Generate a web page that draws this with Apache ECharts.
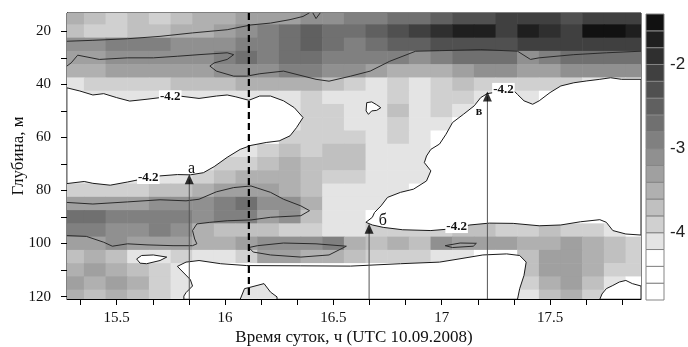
<!DOCTYPE html>
<html><head><meta charset="utf-8">
<script src="https://cdn.jsdelivr.net/npm/echarts@6/dist/echarts.min.js"></script>
<style>html,body{margin:0;padding:0;background:#fff}#c{width:688px;height:347px}</style>
</head><body><div id="c"></div>
<script>
// ---- grid of values (columns = time, rows = depth) ----
const times = [15.3,15.4,15.5,15.6,15.7,15.8,15.9,16.0,16.1,16.2,16.3,16.4,16.5,16.6,16.7,16.8,16.9,17.0,17.1,17.2,17.3,17.4,17.5,17.6,17.7,17.8,17.9];
const depths = [15,20,25,30,35,40,45,50,55,60,65,70,75,80,85,90,95,100,105,110,115,120];
const r15 = [-3.5,-3.7,-3.9,-3.7,-3.9,-3.7,-3.5,-3.5,-3.3,-3.3,-3.3,-3.1,-3.1,-2.9,-2.9,-2.7,-2.7,-2.5,-2.3,-2.3,-2.1,-2.1,-2.1,-2.3,-2.1,-2.1,-2.1];
const r20 = [-3.7,-3.9,-3.9,-3.7,-3.7,-3.5,-3.5,-3.3,-3.1,-2.9,-2.7,-2.5,-2.7,-2.7,-2.5,-2.3,-2.1,-1.9,-1.7,-1.7,-2.1,-1.7,-1.9,-2.1,-1.5,-1.5,-1.7];
const r25 = [-3.1,-3.1,-2.9,-2.9,-2.9,-3.1,-3.1,-3.1,-2.9,-2.9,-2.7,-2.5,-2.7,-2.9,-2.7,-2.5,-2.5,-2.3,-2.3,-2.3,-2.3,-2.1,-2.1,-2.1,-2.1,-2.1,-2.1];
const r30 = [-3.3,-3.3,-3.1,-3.1,-3.1,-3.1,-3.1,-2.9,-2.7,-2.9,-2.7,-2.7,-2.9,-2.9,-2.9,-2.9,-3.1,-2.9,-2.7,-2.7,-2.7,-3.1,-2.9,-2.7,-2.7,-2.7,-2.7];
const r35 = [-3.5,-3.5,-3.3,-3.3,-3.3,-3.3,-3.3,-3.1,-3.1,-3.1,-2.9,-2.9,-3.1,-3.1,-3.3,-3.5,-3.5,-3.5,-3.3,-3.1,-3.1,-3.3,-3.3,-3.1,-3.1,-3.1,-3.1];
const r40 = [-4.1,-3.9,-3.9,-3.9,-3.9,-3.7,-3.7,-3.7,-3.5,-3.5,-3.5,-3.5,-3.7,-3.9,-4.1,-3.9,-4.1,-3.9,-3.7,-3.9,-3.9,-3.9,-3.9,-3.9,-4.1,-4.1,-4.1];
const r45 = [-4.1,-4.1,-4.1,-4.1,-4.1,-4.1,-4.1,-4.1,-4.1,-4.1,-4.1,-3.9,-4.1,-4.1,-4.1,-3.9,-4.1,-3.9,-3.9,-4.1,-4.1,-4.1,-4.4,-4.4,-4.4,-4.4,-4.4];
const r50 = [-4.4,-4.4,-4.4,-4.4,-4.4,-4.4,-4.4,-4.4,-4.4,-4.4,-4.1,-3.9,-3.9,-4.1,-4.1,-3.7,-4.1,-3.9,-4.1,-4.4,-4.4,-4.4,-4.4,-4.4,-4.4,-4.4,-4.4];
const r55 = [-4.4,-4.4,-4.4,-4.4,-4.4,-4.4,-4.4,-4.4,-4.4,-4.4,-4.1,-3.9,-3.9,-4.1,-4.1,-3.9,-4.1,-4.1,-4.4,-4.4,-4.4,-4.4,-4.4,-4.4,-4.4,-4.4,-4.4];
const r60 = [-4.4,-4.4,-4.4,-4.4,-4.4,-4.4,-4.4,-4.4,-4.4,-4.4,-3.9,-3.9,-3.9,-3.9,-4.1,-3.9,-4.1,-4.3,-4.4,-4.4,-4.4,-4.4,-4.4,-4.4,-4.4,-4.4,-4.4];
const r65 = [-4.4,-4.4,-4.4,-4.4,-4.4,-4.4,-4.4,-4.1,-4.1,-3.9,-3.7,-3.9,-3.7,-3.7,-4.1,-4.1,-4.1,-4.4,-4.4,-4.4,-4.4,-4.4,-4.4,-4.4,-4.4,-4.4,-4.4];
const r70 = [-4.4,-4.4,-4.4,-4.4,-4.4,-4.4,-4.1,-3.9,-3.9,-3.7,-3.5,-3.7,-3.7,-3.7,-4.1,-4.1,-4.1,-4.4,-4.4,-4.4,-4.4,-4.4,-4.4,-4.4,-4.4,-4.4,-4.4];
const r75 = [-4.1,-4.1,-4.1,-4.1,-4.1,-4.1,-3.9,-3.7,-3.5,-3.5,-3.5,-3.7,-3.9,-3.9,-4.1,-4.1,-4.1,-4.4,-4.4,-4.4,-4.4,-4.4,-4.4,-4.4,-4.4,-4.4,-4.4];
const r80 = [-3.9,-3.9,-3.9,-3.9,-3.7,-3.7,-3.5,-3.3,-3.3,-3.3,-3.5,-3.7,-4.1,-4.1,-4.1,-4.1,-4.4,-4.4,-4.4,-4.4,-4.4,-4.4,-4.4,-4.4,-4.4,-4.4,-4.4];
const r85 = [-3.3,-3.3,-3.3,-3.3,-3.1,-3.1,-3.1,-2.9,-2.7,-3.1,-3.1,-3.5,-4.1,-4.1,-4.1,-4.4,-4.4,-4.4,-4.4,-4.4,-4.4,-4.4,-4.4,-4.4,-4.4,-4.4,-4.4];
const r90 = [-2.7,-2.7,-2.9,-2.9,-2.9,-2.9,-3.1,-2.9,-2.9,-3.3,-3.1,-3.7,-4.1,-4.1,-4.3,-4.4,-4.4,-4.4,-4.4,-4.4,-4.4,-4.4,-4.4,-4.4,-4.4,-4.4,-4.4];
const r95 = [-2.9,-2.9,-3.1,-3.1,-2.9,-3.1,-3.5,-3.7,-3.7,-3.7,-3.9,-3.9,-4.1,-4.1,-3.9,-3.9,-3.9,-3.9,-3.7,-3.7,-3.9,-3.9,-3.7,-3.9,-3.9,-4.1,-4.3];
const r100 = [-3.3,-3.3,-3.1,-3.3,-3.3,-3.3,-3.5,-3.5,-3.3,-3.1,-3.1,-3.1,-2.9,-3.5,-3.7,-3.5,-3.7,-3.1,-3.3,-3.3,-3.3,-3.5,-3.5,-3.3,-3.5,-3.7,-3.9];
const r105 = [-3.7,-3.5,-3.7,-4.1,-4.1,-3.9,-4.1,-4.1,-3.9,-3.3,-3.3,-3.5,-3.5,-3.7,-3.9,-3.9,-3.9,-4.1,-4.1,-4.3,-4.3,-3.7,-3.3,-3.3,-3.5,-3.7,-3.9];
const r110 = [-3.5,-3.3,-3.5,-3.7,-3.9,-4.1,-4.4,-4.4,-4.4,-4.4,-4.4,-4.4,-4.4,-4.4,-4.4,-4.4,-4.4,-4.4,-4.4,-4.4,-4.4,-3.7,-3.3,-3.3,-3.5,-3.9,-3.9];
const r115 = [-3.3,-3.5,-3.3,-3.5,-3.9,-4.1,-4.4,-4.4,-4.1,-4.1,-4.4,-4.4,-4.4,-4.4,-4.4,-4.4,-4.4,-4.4,-4.4,-4.4,-4.4,-3.9,-3.5,-3.3,-3.7,-4.1,-4.3];
const r120 = [-3.5,-3.7,-3.5,-3.7,-3.9,-4.1,-4.4,-4.4,-4.1,-4.1,-4.4,-4.4,-4.4,-4.4,-4.4,-4.4,-4.4,-4.4,-4.4,-4.4,-4.4,-4.1,-3.7,-3.5,-3.9,-4.4,-4.4];
const valueRows = [r15,r20,r25,r30,r35,r40,r45,r50,r55,r60,r65,r70,r75,r80,r85,r90,r95,r100,r105,r110,r115,r120];

// ---- contour lines: [time, depth] ----
const whiteLeft = [[15.27,41.3],[15.33,42.5],[15.39,44.0],[15.44,43.5],[15.50,45.0],[15.56,46.3],[15.64,45.6],[15.70,45.0],[15.79,44.4],[15.88,45.3],[15.96,44.4],[16.01,44.0],[16.05,44.7],[16.11,46.0],[16.16,44.4],[16.21,44.4],[16.27,46.2],[16.32,48.8],[16.36,52.5],[16.33,56.3],[16.30,59.4],[16.25,61.3],[16.19,61.9],[16.12,63.0],[16.07,64.5],[16.01,67.5],[15.95,71.0],[15.90,73.3],[15.84,74.1],[15.78,74.0],[15.70,74.5],[15.61,75.8],[15.55,76.8],[15.47,78.0],[15.39,77.3],[15.35,76.6],[15.27,77.4]];
const whiteRight = [[17.92,38.1],[17.83,38.1],[17.78,37.5],[17.73,38.1],[17.67,38.7],[17.61,39.4],[17.55,40.6],[17.50,43.1],[17.45,46.2],[17.42,47.5],[17.38,46.2],[17.35,43.8],[17.32,41.3],[17.28,42.0],[17.24,43.1],[17.21,43.5],[17.18,45.0],[17.15,48.1],[17.10,51.3],[17.05,54.4],[17.02,58.8],[16.99,62.5],[16.95,64.5],[16.93,67.0],[16.92,69.5],[16.95,72.6],[16.93,76.4],[16.87,79.5],[16.81,80.7],[16.75,82.6],[16.72,85.8],[16.69,88.3],[16.68,90.1],[16.65,92.0],[16.68,93.0],[16.73,93.9],[16.82,94.8],[16.95,95.1],[17.04,94.5],[17.13,93.0],[17.22,92.3],[17.33,92.4],[17.45,93.3],[17.55,93.0],[17.64,91.8],[17.73,91.0],[17.76,92.0],[17.79,95.1],[17.85,96.4],[17.92,96.8]];
const whiteBottom = [[15.81,121],[15.81,119.8],[15.82,118.5],[15.85,116.0],[15.84,113.6],[15.81,111.1],[15.78,108.6],[15.82,107.0],[15.88,106.4],[15.98,107.6],[16.10,108.3],[16.35,108.4],[16.58,108.5],[16.81,107.6],[16.99,107.0],[17.08,105.8],[17.19,104.3],[17.30,103.9],[17.36,104.5],[17.39,107.0],[17.38,112.0],[17.36,117.0],[17.35,121],[16.24,121],[16.24,120.1],[16.21,118.3],[16.18,115.1],[16.12,116.4],[16.09,117.0],[16.07,121]];
const whiteBottomRight = [[17.73,121],[17.74,119.0],[17.76,117.0],[17.79,115.8],[17.82,114.5],[17.85,113.9],[17.88,115.1],[17.92,116.0],[17.92,121]];
const islandMid = [[16.654,46.9],[16.677,46.6],[16.70,47.7],[16.719,48.8],[16.70,49.8],[16.677,50.0],[16.662,51.3],[16.651,50.0]];
const islandLow = [[15.592,105.8],[15.615,104.5],[15.669,104.3],[15.731,105.1],[15.70,106.4],[15.638,107.6],[15.608,107.4]];
const lineTop1 = [[15.27,23.75],[15.39,23.4],[15.55,22.8],[15.70,21.9],[15.85,20.6],[16.01,19.4],[16.12,17.6],[16.21,16.9],[16.30,15.6],[16.36,14.4],[16.39,13.0]];
const lineTop1b = [[16.405,13.0],[16.42,15.2],[16.44,13.0]];
const lineTop2 = [[15.27,33.1],[15.29,31.9],[15.32,29.0],[15.42,30.6],[15.55,30.0],[15.67,30.0],[15.78,29.4],[15.88,28.8],[16.01,28.1],[16.04,28.8],[16.01,30.6],[15.95,31.9],[15.93,33.1],[15.96,35.0],[16.04,36.9],[16.10,36.9],[16.16,36.0],[16.27,35.0],[16.42,38.1],[16.48,38.8],[16.58,36.9],[16.67,35.0],[16.76,31.3],[16.88,27.5],[16.99,27.3],[17.18,26.9],[17.35,27.5],[17.41,30.6],[17.45,30.0],[17.61,28.8],[17.76,28.1],[17.92,27.5]];
const lineMid = [[15.27,84.5],[15.39,85.1],[15.55,84.3],[15.70,83.5],[15.82,83.9],[15.88,83.3],[15.96,80.5],[16.04,78.9],[16.12,78.3],[16.21,80.7],[16.27,83.3],[16.35,85.8],[16.39,87.6],[16.35,89.5],[16.21,90.1],[16.12,91.1],[16.01,91.4],[15.93,92.0],[15.87,92.6],[15.85,95.1],[15.86,98.3],[15.87,100.1],[15.85,100.8],[15.76,100.8],[15.64,100.5],[15.55,100.1],[15.48,101.0],[15.44,99.5],[15.36,97.3],[15.27,97.0]];
const lineStripe = [[16.11,101.5],[16.15,100.8],[16.27,99.8],[16.42,100.1],[16.56,101.0],[16.48,104.3],[16.35,105.1],[16.21,104.3],[16.13,103.2],[16.11,101.5]];
const lineSmall = [[17.016,100.8],[17.085,99.8],[17.16,99.9],[17.146,101.0],[17.05,101.5],[17.016,100.8]];

// ---- annotations ----
const markTime = 16.11;
const contourLabels = [[15.747,44.7,'-4.2'],[15.646,75.1,'-4.2'],[17.285,41.9,'-4.2'],[17.069,93.6,'-4.2']];
const arrowTimes = [15.835,16.665,17.211];
const arrowTips = [75.8,94.4,44.6];
const arrowLetters = [[15.846,72.0,'а'],[16.728,91.4,'б'],[17.172,50.3,'в']];

// ---- axes ----
const xTicks = [15.3333,15.5,15.6667,15.8333,16,16.1667,16.3333,16.5,16.6667,16.8333,17,17.1667,17.3333,17.5,17.6667,17.8333];
const xLabels = [15.5,16,16.5,17,17.5];
const yTicks = [20,30,40,50,60,70,80,90,100,110,120];
const yLabels = [20,40,60,80,100,120];
const levels = [-4.8,-4.6,-4.4,-4.2,-4.0,-3.8,-3.6,-3.4,-3.2,-3.0,-2.8,-2.6,-2.4,-2.2,-2.0,-1.8,-1.6,-1.4];
const barLabels = [-2,-3,-4];
const bandColors = ['#ffffff','#ffffff','#ffffff','#e4e4e4','#d0d0d0','#c0c0c0','#b0b0b0','#a0a0a0','#909090','#808080','#707070','#606060','#505050','#404040','#2f2f2f','#1f1f1f','#111111'];

function colorFor(v){
  for (let i = 0; i < levels.length - 1; i++) if (v >= levels[i] && v < levels[i+1]) return bandColors[i];
  return v < levels[0] ? bandColors[0] : bandColors[bandColors.length-1];
}

const cellData = [];
depths.forEach((d,i)=>times.forEach((t,j)=>cellData.push([t,d,valueRows[i][j]])));

const SERIF = '"Liberation Serif","Times New Roman",serif';
const SANS = '"Liberation Sans",Arial,sans-serif';

function polySeries(pts, z){
  return {type:'custom', xAxisIndex:0, yAxisIndex:0, clip:true, silent:true, z:z, data:[pts[0]],
    renderItem:(p,api)=>({type:'polygon', shape:{points:pts.map(q=>api.coord(q))}, style:{fill:'#fff', stroke:'#1a1a1a', lineWidth:1}})};
}
function lineSeries(pts, z, color, width, dash){
  return {type:'line', xAxisIndex:0, yAxisIndex:0, data:pts, symbol:'none', silent:true, z:z, clip:true,
    lineStyle:{color:color, width:width, type: dash || 'solid'}, animation:false};
}

const series = [];
series.push({type:'custom', xAxisIndex:0, yAxisIndex:0, clip:true, silent:true, z:1, data:cellData,
  renderItem:(p,api)=>{
    const t=api.value(0), d=api.value(1), v=api.value(2);
    const a=api.coord([t-0.05,d-2.5]), b=api.coord([t+0.05,d+2.5]);
    return {type:'rect', shape:{x:Math.min(a[0],b[0])-0.3, y:Math.min(a[1],b[1])-0.3, width:Math.abs(b[0]-a[0])+0.6, height:Math.abs(b[1]-a[1])+0.6}, style:{fill:colorFor(v)}};
  }});
[whiteLeft, whiteRight, whiteBottom, whiteBottomRight, islandMid, islandLow].forEach(p=>series.push(polySeries(p,2)));
[lineTop1, lineTop1b, lineTop2, lineMid, lineStripe, lineSmall].forEach(p=>series.push(lineSeries(p,3,'#2a2a2a',1)));
// dashed marker line
series.push(lineSeries([[markTime,13.1],[markTime,120.9]],4,'#000',2.2,[7,4]));
// arrows
arrowTimes.forEach((t,i)=>series.push(lineSeries([[t,120.9],[t,arrowTips[i]]],5,'#555',1)));
series.push({type:'scatter', xAxisIndex:0, yAxisIndex:0, z:6, silent:true, symbol:'triangle', symbolSize:[9,10],
  itemStyle:{color:'#000'}, data:arrowTimes.map((t,i)=>[t,arrowTips[i]]), animation:false});
// texts
series.push({type:'custom', xAxisIndex:0, yAxisIndex:0, z:7, silent:true, clip:false, data:contourLabels,
  renderItem:(p,api)=>{const c=api.coord([api.value(0),api.value(1)]);
    return {type:'text', x:c[0], y:c[1], style:{text:contourLabels[p.dataIndex][2], fill:'#111', font:'bold 13px '+SERIF, align:'center', verticalAlign:'middle', backgroundColor:'#fff', padding:[0,1]}};}});
series.push({type:'custom', xAxisIndex:0, yAxisIndex:0, z:7, silent:true, clip:false, data:arrowLetters,
  renderItem:(p,api)=>{const c=api.coord([api.value(0),api.value(1)]);
    const sz = p.dataIndex===2 ? 'bold 12px ' : '16px ';
    return {type:'text', x:c[0], y:c[1], style:{text:arrowLetters[p.dataIndex][2], fill:'#111', font:sz+SERIF, align:'center', verticalAlign:'middle'}};}});
// colour bar
const bands = levels.slice(0,-1).map((lo,i)=>[0,lo,levels[i+1],i]);
series.push({type:'custom', xAxisIndex:1, yAxisIndex:1, silent:true, z:2, data:bands,
  renderItem:(p,api)=>{const a=api.coord([0,api.value(1)]), b=api.coord([1,api.value(2)]);
    return {type:'rect', shape:{x:a[0], y:Math.min(a[1],b[1]), width:b[0]-a[0], height:Math.abs(b[1]-a[1])}, style:{fill:bandColors[api.value(3)], stroke:'#858585', lineWidth:1}};}});

const chart = echarts.init(document.getElementById('c'), null, {renderer:'canvas'});
chart.setOption({
  animation:false,
  backgroundColor:'#fff',
  grid:[
    {left:67, right:47, top:13, bottom:48, show:true, borderColor:'#000', borderWidth:1, backgroundColor:'transparent', containLabel:false, outerBoundsMode:'none'},
    {left:646, right:24, top:14, bottom:47, containLabel:false, outerBoundsMode:'none'}
  ],
  xAxis:[
    {type:'value', gridIndex:0, min:15.2706, max:17.92, splitLine:{show:false},
     axisLine:{show:true, onZero:false, lineStyle:{color:'#000', width:1}},
     axisTick:{show:true, length:6, inside:false, customValues:xTicks, lineStyle:{color:'#000'}},
     axisLabel:{customValues:xLabels, formatter:v=>String(v), fontFamily:SERIF, fontSize:15, color:'#111', margin:12, showMinLabel:true, showMaxLabel:true},
     name:'Время суток, ч (UTC 10.09.2008)', nameLocation:'middle', nameGap:30, nameMoveOverlap:false,
     nameTextStyle:{fontFamily:SERIF, fontSize:17, color:'#111'}},
    {type:'value', gridIndex:1, min:0, max:1, show:false}
  ],
  yAxis:[
    {type:'value', gridIndex:0, inverse:true, min:13.1, max:120.9, splitLine:{show:false},
     axisLine:{show:true, onZero:false, lineStyle:{color:'#000', width:1}},
     axisTick:{show:true, length:6, inside:false, customValues:yTicks, lineStyle:{color:'#000'}},
     axisLabel:{customValues:yLabels, formatter:v=>String(v), fontFamily:SERIF, fontSize:15, color:'#111', margin:16},
     name:'Глубина, м', nameLocation:'middle', nameGap:40, nameRotate:90, nameMoveOverlap:false,
     nameTextStyle:{fontFamily:SERIF, fontSize:17, color:'#111'}},
    {type:'value', gridIndex:1, min:-4.8, max:-1.4, position:'right', splitLine:{show:false},
     axisLine:{show:false}, axisTick:{show:false},
     axisLabel:{customValues:barLabels, formatter:v=>String(v), fontFamily:SANS, fontSize:17, color:'#222', margin:6}}
  ],
  series:series
});
</script>
</body></html>
